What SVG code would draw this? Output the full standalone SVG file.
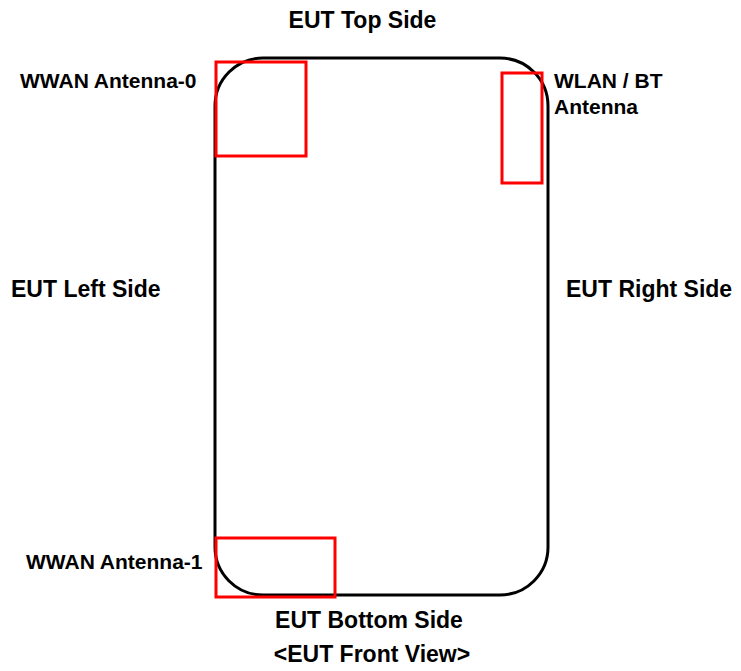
<svg xmlns="http://www.w3.org/2000/svg" width="741" height="671" viewBox="0 0 741 671">
<style>
text{font-family:"Liberation Sans",Arial,sans-serif;font-weight:bold;fill:#000}
.side{font-size:23px}
.ant{font-size:21px}
.body{fill:none;stroke:#000;stroke-width:3}
.antenna{fill:none;stroke:#ff0000;stroke-width:3}
</style>
<rect width="741" height="671" fill="#fff"/>
<g id="eut-body"><rect class="body" x="215" y="58" width="333" height="537" rx="48" ry="48"/></g>
<g id="wwan-antenna-0"><rect class="antenna" x="216" y="62" width="90" height="94"/><text class="ant" x="20" y="88">WWAN Antenna-0</text></g>
<g id="wlan-bt-antenna"><rect class="antenna" x="502" y="73" width="40" height="110"/><text class="ant" x="554" y="88">WLAN / BT</text><text class="ant" x="554" y="114">Antenna</text></g>
<g id="wwan-antenna-1"><rect class="antenna" x="216" y="538" width="119" height="59"/><text class="ant" x="26" y="569">WWAN Antenna-1</text></g>
<g id="labels">
<text class="side" x="362.5" y="28" text-anchor="middle">EUT Top Side</text>
<text class="side" x="11" y="297">EUT Left Side</text>
<text class="side" x="566" y="297">EUT Right Side</text>
<text class="side" x="369" y="628" text-anchor="middle">EUT Bottom Side</text>
<text class="side" x="372" y="662" text-anchor="middle">&lt;EUT Front View&gt;</text>
</g>
<g id="connectors"/>
</svg>
